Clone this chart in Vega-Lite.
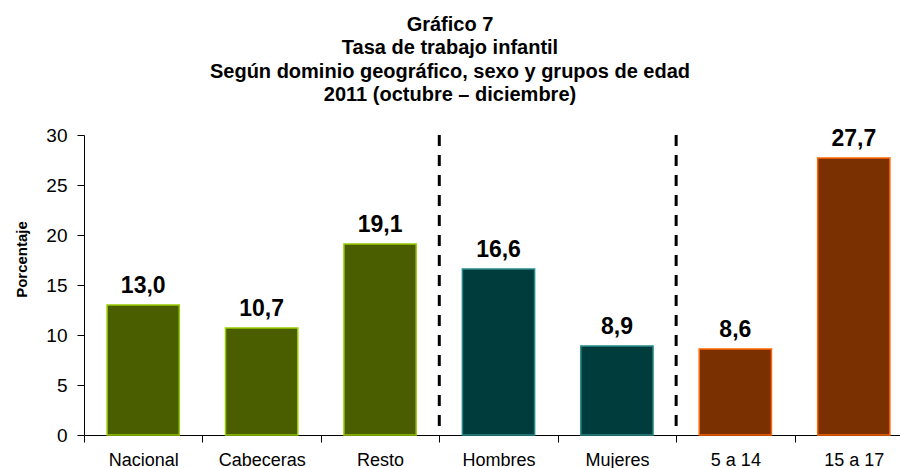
{
  "$schema": "https://vega.github.io/schema/vega-lite/v6.json",
  "autosize": {"type": "none"},
  "padding": {"left": 84, "top": 135, "right": 0, "bottom": 33},
  "width": 816,
  "height": 300,
  "background": "white",
  "config": {
    "view": {"stroke": null},
    "font": "Liberation Sans",
    "locale": {"number": {"decimal": ",", "thousands": ".", "grouping": [3], "currency": ["", ""]}}
  },
  "title": {
    "text": ["Gráfico 7", "Tasa de trabajo infantil", "Según dominio geográfico, sexo y grupos de edad", "2011 (octubre – diciembre)"],
    "font": "Liberation Sans",
    "fontSize": 20,
    "fontWeight": "bold",
    "lineHeight": 23.5,
    "color": "#000000",
    "anchor": "middle",
    "dx": -42,
    "offset": 21
  },
  "datasets": {
    "bars": [
      {"categoria": "Nacional", "grupo": "Dominio", "tasa": 13.0},
      {"categoria": "Cabeceras", "grupo": "Dominio", "tasa": 10.7},
      {"categoria": "Resto", "grupo": "Dominio", "tasa": 19.1},
      {"categoria": "Hombres", "grupo": "Sexo", "tasa": 16.6},
      {"categoria": "Mujeres", "grupo": "Sexo", "tasa": 8.9},
      {"categoria": "5 a 14", "grupo": "Edad", "tasa": 8.6},
      {"categoria": "15 a 17", "grupo": "Edad", "tasa": 27.7}
    ],
    "separadores": [
      {"categoria": "Hombres"},
      {"categoria": "5 a 14"}
    ]
  },
  "layer": [
    {
      "data": {"name": "bars"},
      "mark": {"type": "bar", "width": {"band": 0.61}, "strokeWidth": 1.5},
      "encoding": {
        "x": {
          "field": "categoria", "type": "nominal", "sort": null,
          "scale": {"domain": ["Nacional", "Cabeceras", "Resto", "Hombres", "Mujeres", "5 a 14", "15 a 17"], "paddingInner": 0, "paddingOuter": 0, "range": [0, 829]},
          "axis": {"title": null, "labelAngle": 0, "labelFontSize": 18, "labelColor": "#000000", "labelFont": "Liberation Sans", "tickBand": "extent", "tickSize": 7, "tickColor": "#000000", "domainColor": "#000000", "labelPadding": 9}
        },
        "y": {
          "field": "tasa", "type": "quantitative",
          "scale": {"domain": [0, 30]},
          "axis": {"title": "Porcentaje", "values": [0, 5, 10, 15, 20, 25, 30], "grid": false, "labelFontSize": 19, "labelColor": "#000000", "labelFont": "Liberation Sans", "tickSize": 7, "tickColor": "#000000", "domainColor": "#000000", "labelPadding": 10, "titleFontSize": 15, "titleFontWeight": "bold", "titleFont": "Liberation Sans", "titleColor": "#000000", "titleX": -63, "titleY": 124, "titleAlign": "center", "titleBaseline": "middle"}
        },
        "color": {"field": "grupo", "type": "nominal", "scale": {"domain": ["Dominio", "Sexo", "Edad"], "range": ["#4a5e00", "#003c3c", "#7a3000"]}, "legend": null},
        "stroke": {"field": "grupo", "type": "nominal", "scale": {"domain": ["Dominio", "Sexo", "Edad"], "range": ["#99cc00", "#2a8a8a", "#ff6600"]}, "legend": null}
      }
    },
    {
      "data": {"name": "bars"},
      "mark": {"type": "text", "dy": -12, "baseline": "alphabetic", "fontSize": 23, "fontWeight": "bold", "font": "Liberation Sans", "color": "#000000"},
      "encoding": {
        "x": {"field": "categoria", "type": "nominal", "sort": null},
        "y": {"field": "tasa", "type": "quantitative"},
        "text": {"field": "tasa", "type": "quantitative", "format": ".1f"}
      }
    },
    {
      "data": {"name": "separadores"},
      "mark": {"type": "rule", "strokeWidth": 3, "strokeDash": [11, 9], "color": "#000000"},
      "encoding": {
        "x": {"field": "categoria", "type": "nominal", "sort": null, "bandPosition": 0},
        "y": {"datum": 30},
        "y2": {"datum": 0}
      }
    }
  ]
}
